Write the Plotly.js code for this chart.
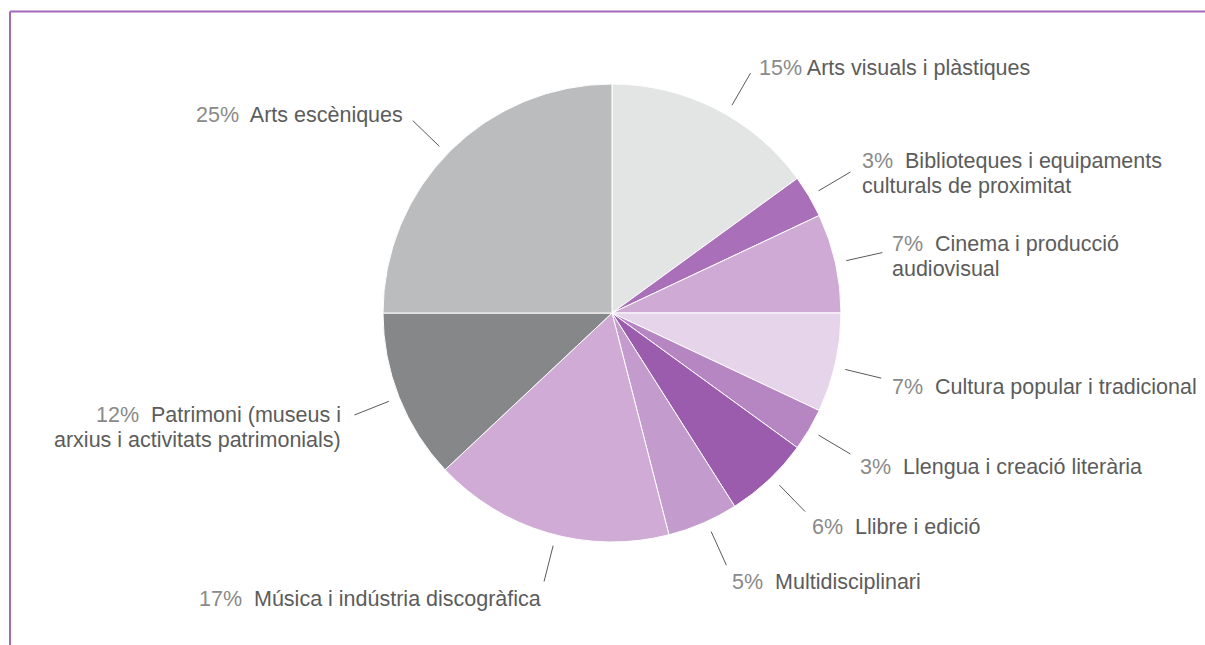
<!DOCTYPE html>
<html>
<head>
<meta charset="utf-8">
<script src="https://cdn.plot.ly/plotly-3.0.1.min.js"></script>
<style>
html,body{margin:0;padding:0;background:#ffffff;}
#chart{width:1205px;height:645px;}
</style>
</head>
<body>
<div id="chart"></div>
<script>
// ---- data ----
const categories = [
  "Arts visuals i plàstiques",
  "Biblioteques i equipaments\nculturals de proximitat",
  "Cinema i producció\naudiovisual",
  "Cultura popular i tradicional",
  "Llengua i creació literària",
  "Llibre i edició",
  "Multidisciplinari",
  "Música i indústria discogràfica",
  "Patrimoni (museus i\narxius i activitats patrimonials)",
  "Arts escèniques"
];
const values = [15, 3, 7, 7, 3, 6, 5, 17, 12, 25];

// ---- styles ----
const sliceColors = ["#e3e4e4", "#a96fb8", "#cfaad5", "#e6d4ea", "#b686c3",
                     "#9c5cae", "#c39bcc", "#d0abd6", "#868788", "#bbbcbe"];
const pctColor = "#8a8a8a";
const textColor = "#5c5c5c";
const fontFamily = "Liberation Sans, Arial, sans-serif";
const fontSize = 21.5;
const lineGap = 25;

// pie geometry (pixels)
const W = 1205, H = 645;
const CX = 612, CY = 313, R = 229;
const LEAD_R1 = 240, LEAD_R2 = 277;

// label nudges relative to leader line end (pixels) [dx, dy]
const labelNudge = [[19, 2], [10, -11], [8, -8.5], [8, 14], [8, 13],
                    [8, 12], [8, 15], [8, 20], [-11, 0.5], [-11, -2]];
// small angular nudges of the leader lines (degrees)
const leaderNudge = [3, 0, 0, 1, 0, -1, -1, -2, 0, -1];
const pctGap = [" ", "&nbsp; ", "&nbsp; ", "&nbsp; ", "&nbsp; ",
                "&nbsp; ", "&nbsp; ", "&nbsp; ", "&nbsp; ", "&nbsp; "];

const px = x => x / W;
const py = y => 1 - y / H;

const total = values.reduce((a, b) => a + b, 0);
const shapes = [];
const annotations = [];

// frame lines
shapes.push({type: "line", xref: "paper", yref: "paper",
  x0: px(10), x1: 1, y0: py(11.5), y1: py(11.5),
  line: {color: "#a368b9", width: 2}});
shapes.push({type: "line", xref: "paper", yref: "paper",
  x0: px(10), x1: px(10), y0: py(11.5), y1: 0,
  line: {color: "#a368b9", width: 2}});

let cum = 0;
values.forEach((v, i) => {
  const midData = (cum + v / 2) / total * 2 * Math.PI;
  cum += v;
  const bs = Math.sin(midData), bc = Math.cos(midData);
  const bx = CX + LEAD_R2 * bs, by = CY - LEAD_R2 * bc;
  const mid = midData + leaderNudge[i] * Math.PI / 180;
  const s = Math.sin(mid), c = Math.cos(mid);
  const x1 = CX + LEAD_R1 * s, y1 = CY - LEAD_R1 * c;
  const x2 = CX + LEAD_R2 * s, y2 = CY - LEAD_R2 * c;
  shapes.push({type: "line", xref: "paper", yref: "paper",
    x0: px(x1), y0: py(y1), x1: px(x2), y1: py(y2),
    line: {color: "#5a5a5a", width: 1}});
  const right = bs > 0;
  const lines = categories[i].split("\n");
  lines.forEach((ln, k) => {
    const txt = (k === 0 ? '<span style="color:' + pctColor + '">' + v + '%</span>' + pctGap[i] : '') + ln;
    annotations.push({
      xref: "paper", yref: "paper",
      x: px(bx + labelNudge[i][0]),
      y: py(by + labelNudge[i][1] + k * lineGap),
      xanchor: right ? "left" : "right",
      yanchor: "middle",
      align: right ? "left" : "right",
      showarrow: false,
      text: txt,
      font: {family: fontFamily, size: fontSize, color: textColor}
    });
  });
});

const trace = {
  type: "pie",
  values: values,
  labels: categories.map(c => c.replace("\n", " ")),
  sort: false,
  direction: "clockwise",
  rotation: 0,
  textinfo: "none",
  hoverinfo: "label+percent",
  marker: {colors: sliceColors, line: {color: "#ffffff", width: 1}},
  domain: {x: [px(CX - R), px(CX + R)], y: [py(CY + R), py(CY - R)]},
  showlegend: false
};

const layout = {
  width: W, height: H,
  margin: {l: 0, r: 0, t: 0, b: 0},
  paper_bgcolor: "#ffffff",
  plot_bgcolor: "#ffffff",
  showlegend: false,
  shapes: shapes,
  annotations: annotations
};

Plotly.newPlot("chart", [trace], layout, {displayModeBar: false, staticPlot: true});
</script>
</body>
</html>
